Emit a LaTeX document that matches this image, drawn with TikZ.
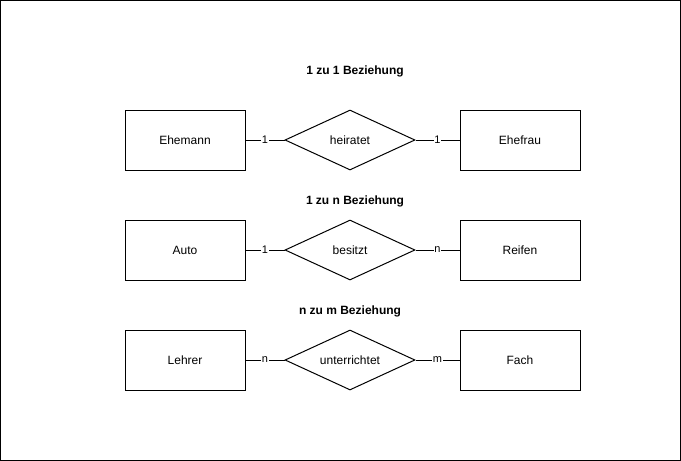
\documentclass[tikz,border=0pt]{standalone}
\usepackage{fontspec}
\setmainfont{Liberation Sans}
\usetikzlibrary{shapes.geometric, positioning}

\begin{document}
\begin{tikzpicture}[
        x=1pt, y=-1pt,
        line width=1pt,
        every node/.style={font=\fontsize{12}{14}\selectfont},
        entity/.style={draw, minimum width=120pt, minimum height=60pt, inner sep=0pt},
        relation/.style={diamond, draw, minimum width=130pt, minimum height=60pt, inner sep=0pt, aspect=2.2},
        title/.style={font=\bfseries\fontsize{12}{14}\selectfont},
        card/.style={fill=white, inner sep=0.5pt, font=\fontsize{11}{13}\selectfont}
    ]

    % Frame
    \useasboundingbox (0,0) rectangle (681,461);
    \draw (0.5,0.5) rectangle (680.5,460.5);

    % 1 zu 1
    \node[title] (t1) at (355,71) {1 zu 1 Beziehung};
    \node[entity] (ehemann) at (185,140) {Ehemann};
    \node[relation] (heiratet) at (350,140) {heiratet};
    \node[entity] (ehefrau) at (520,140) {Ehefrau};
    \draw (ehemann) -- node[card] {1} (heiratet);
    \draw (heiratet) -- node[card] {1} (ehefrau);

    % 1 zu n
    \node[title] (t2) at (355,201) {1 zu n Beziehung};
    \node[entity] (auto) at (185,250) {Auto};
    \node[relation] (besitzt) at (350,250) {besitzt};
    \node[entity] (reifen) at (520,250) {Reifen};
    \draw (auto) -- node[card] {1} (besitzt);
    \draw (besitzt) -- node[card] {n} (reifen);

    % n zu m
    \node[title] (t3) at (350,311) {n zu m Beziehung};
    \node[entity] (lehrer) at (185,360) {Lehrer};
    \node[relation] (unterrichtet) at (350,360) {unterrichtet};
    \node[entity] (fach) at (520,360) {Fach};
    \draw (lehrer) -- node[card] {n} (unterrichtet);
    \draw (unterrichtet) -- node[card] {m} (fach);

\end{tikzpicture}
\end{document}
